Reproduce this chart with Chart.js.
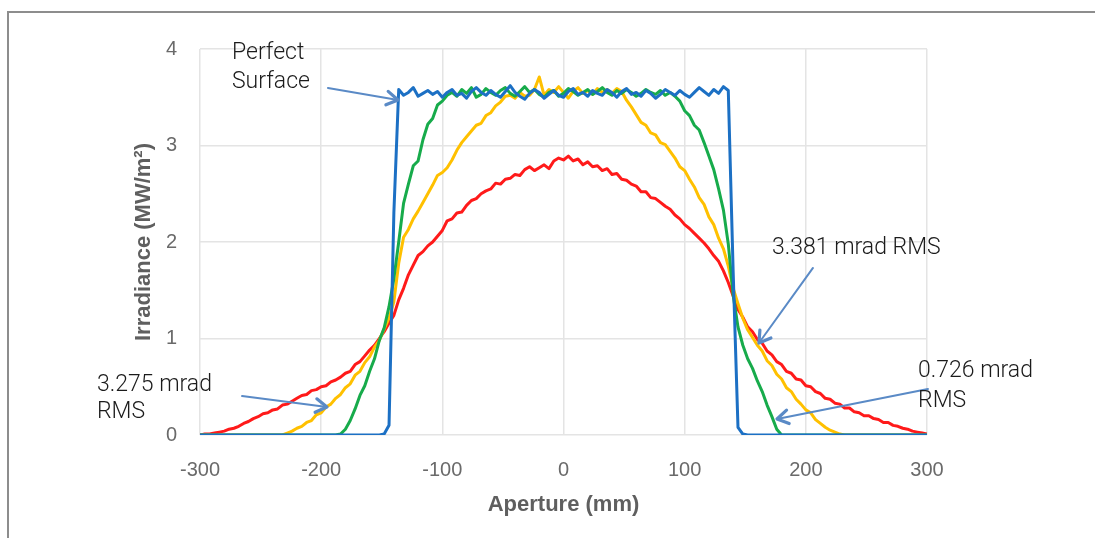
<!DOCTYPE html>
<html>
<head>
<meta charset="utf-8">
<title>Irradiance vs Aperture</title>
<script src="https://cdn.jsdelivr.net/npm/chart.js@4.4.1/dist/chart.umd.min.js"></script>
<style>
  html, body { margin: 0; padding: 0; background: #ffffff; overflow: hidden; }
  canvas { display: block; }
</style>
</head>
<body>
<canvas id="chart" width="1095" height="538"></canvas>
<script>
// Aperture sample positions (mm), every 4 mm from -300 to 300
const apertureStart = -300;
const apertureStep = 4;
const apertureCount = 151;

// Irradiance profiles (MW/m²), one value per aperture sample, rows of 10 samples
const perfectSurface = [
  0, 0, 0, 0, 0, 0, 0, 0, 0, 0,
  0, 0, 0, 0, 0, 0, 0, 0, 0, 0,
  0, 0, 0, 0, 0, 0, 0, 0, 0, 0,
  0, 0, 0, 0, 0, 0, 0, 0, 0.01, 0.10,
  2.3, 3.58, 3.52, 3.55, 3.60, 3.51, 3.54, 3.57, 3.53, 3.56,
  3.50, 3.55, 3.58, 3.52, 3.54, 3.49, 3.56, 3.60, 3.55, 3.52,
  3.57, 3.53, 3.50, 3.56, 3.62, 3.55, 3.51, 3.48, 3.54, 3.58,
  3.55, 3.49, 3.53, 3.57, 3.52, 3.50, 3.56, 3.59, 3.53, 3.55,
  3.51, 3.57, 3.54, 3.52, 3.58, 3.55, 3.50, 3.56, 3.59, 3.53,
  3.55, 3.51, 3.57, 3.54, 3.49, 3.53, 3.58, 3.55, 3.52, 3.57,
  3.53, 3.50, 3.55, 3.60, 3.56, 3.52, 3.58, 3.54, 3.61, 3.57,
  1.7, 0.08, 0.01, 0, 0, 0, 0, 0, 0, 0,
  0, 0, 0, 0, 0, 0, 0, 0, 0, 0,
  0, 0, 0, 0, 0, 0, 0, 0, 0, 0,
  0, 0, 0, 0, 0, 0, 0, 0, 0, 0,
  0
];

const rms0726 = [
  0, 0, 0, 0, 0, 0, 0, 0, 0, 0,
  0, 0, 0, 0, 0, 0, 0, 0, 0, 0,
  0, 0, 0, 0, 0, 0, 0, 0, 0, 0.01,
  0.06, 0.15, 0.27, 0.41, 0.51, 0.66, 0.79, 0.98, 1.11, 1.33,
  1.62, 2.00, 2.40, 2.60, 2.79, 2.84, 3.06, 3.22, 3.28, 3.42,
  3.46, 3.52, 3.55, 3.51, 3.58, 3.54, 3.60, 3.50, 3.53, 3.59,
  3.55, 3.52, 3.57, 3.60, 3.54, 3.51, 3.56, 3.61, 3.55, 3.58,
  3.53, 3.50, 3.55, 3.57, 3.51, 3.54, 3.59, 3.56, 3.52, 3.55,
  3.58, 3.53, 3.56, 3.60, 3.55, 3.52, 3.57, 3.54, 3.58, 3.55,
  3.51, 3.54, 3.58, 3.55, 3.53, 3.57, 3.52, 3.55, 3.51, 3.46,
  3.36, 3.31, 3.21, 3.16, 3.03, 2.89, 2.75, 2.55, 2.33, 1.98,
  1.45, 1.12, 0.93, 0.79, 0.69, 0.56, 0.45, 0.31, 0.19, 0.06,
  0, 0, 0, 0, 0, 0, 0, 0, 0, 0,
  0, 0, 0, 0, 0, 0, 0, 0, 0, 0,
  0, 0, 0, 0, 0, 0, 0, 0, 0, 0,
  0
];

const rms3275 = [
  0, 0, 0, 0, 0, 0, 0, 0, 0, 0,
  0, 0, 0, 0, 0, 0, 0, 0, 0.02, 0.04,
  0.07, 0.09, 0.13, 0.15, 0.21, 0.23, 0.29, 0.32, 0.38, 0.42,
  0.49, 0.53, 0.62, 0.66, 0.75, 0.81, 0.91, 0.98, 1.10, 1.21,
  1.38, 1.78, 2.05, 2.13, 2.24, 2.32, 2.41, 2.50, 2.59, 2.69,
  2.72, 2.77, 2.85, 2.95, 3.03, 3.09, 3.15, 3.21, 3.23, 3.31,
  3.34, 3.41, 3.45, 3.51, 3.52, 3.49, 3.55, 3.51, 3.52, 3.58,
  3.71, 3.52, 3.58, 3.55, 3.61, 3.55, 3.49, 3.56, 3.60, 3.54,
  3.57, 3.53, 3.59, 3.55, 3.58, 3.54, 3.59, 3.56, 3.47, 3.40,
  3.32, 3.24, 3.21, 3.13, 3.11, 3.03, 3.01, 2.94, 2.87, 2.78,
  2.74, 2.65, 2.57, 2.46, 2.39, 2.26, 2.18, 2.04, 1.93, 1.75,
  1.52, 1.36, 1.21, 1.09, 1.01, 0.93, 0.87, 0.77, 0.72, 0.63,
  0.58, 0.49, 0.45, 0.37, 0.32, 0.26, 0.23, 0.16, 0.12, 0.08,
  0.05, 0.03, 0.01, 0, 0, 0, 0, 0, 0, 0,
  0, 0, 0, 0, 0, 0, 0, 0, 0, 0,
  0
];

const rms3381 = [
  0, 0.01, 0.01, 0.02, 0.03, 0.04, 0.06, 0.07, 0.09, 0.12,
  0.14, 0.17, 0.19, 0.22, 0.23, 0.26, 0.27, 0.31, 0.32, 0.35,
  0.38, 0.41, 0.42, 0.46, 0.47, 0.50, 0.51, 0.55, 0.57, 0.60,
  0.64, 0.66, 0.73, 0.76, 0.82, 0.88, 0.93, 1.00, 1.07, 1.16,
  1.24, 1.40, 1.52, 1.66, 1.76, 1.86, 1.90, 1.96, 2.00, 2.06,
  2.12, 2.22, 2.24, 2.30, 2.31, 2.38, 2.43, 2.45, 2.50, 2.53,
  2.55, 2.61, 2.60, 2.65, 2.66, 2.70, 2.69, 2.75, 2.78, 2.74,
  2.77, 2.80, 2.76, 2.84, 2.87, 2.85, 2.89, 2.84, 2.86, 2.80,
  2.83, 2.78, 2.79, 2.74, 2.76, 2.70, 2.71, 2.65, 2.64, 2.60,
  2.58, 2.52, 2.52, 2.46, 2.45, 2.41, 2.37, 2.34, 2.28, 2.24,
  2.18, 2.14, 2.09, 2.04, 1.99, 1.93, 1.86, 1.80, 1.70, 1.58,
  1.44, 1.30, 1.22, 1.12, 1.07, 0.99, 0.95, 0.87, 0.83, 0.76,
  0.73, 0.66, 0.64, 0.58, 0.57, 0.51, 0.50, 0.45, 0.43, 0.38,
  0.37, 0.33, 0.32, 0.28, 0.28, 0.24, 0.23, 0.20, 0.20, 0.17,
  0.16, 0.13, 0.13, 0.10, 0.09, 0.07, 0.06, 0.04, 0.03, 0.02,
  0.01
];

// Axis ranges and tick steps
const xTicks = { min: -300, max: 300, step: 100 };
const yTicks = { min: 0, max: 4, step: 1 };

// Callout labels and their arrows, in data units (aperture mm, irradiance MW/m²)
const callouts = [
  { lines: ['Perfect', 'Surface'], at: [-273.6, 3.896], lineGap: 0.30,
    arrow: { from: [-194.4, 3.596], to: [-136.6, 3.472] } },
  { lines: ['3.381 mrad RMS'], at: [172.1, 1.876], lineGap: 0.30,
    arrow: { from: [205.9, 1.731], to: [161.3, 0.953] } },
  { lines: ['0.726 mrad', 'RMS'], at: [292.6, 0.601], lineGap: 0.311,
    arrow: { from: [300.8, 0.477], to: [176.2, 0.166] } },
  { lines: ['3.275 mrad', 'RMS'], at: [-385.0, 0.456], lineGap: 0.28,
    arrow: { from: [-265.3, 0.404], to: [-195.2, 0.290] } }
];

const apertures = Array.from({ length: apertureCount }, (_, i) => apertureStart + i * apertureStep);
const toPoints = values => values.map((v, i) => ({ x: apertures[i], y: v }));

const axisGrey = '#6a6a6a';
const titleGrey = '#5f5f5f';
const gridGrey = '#e4e4e4';
const arrowBlue = '#5a8ac6';

// Thin grey frame around the figure
const framePlugin = {
  id: 'frame',
  beforeDraw(chart) {
    const ctx = chart.ctx;
    ctx.save();
    ctx.fillStyle = '#ffffff';
    ctx.fillRect(0, 0, chart.width, chart.height);
    ctx.strokeStyle = '#8d8d8d';
    ctx.lineWidth = 2;
    ctx.beginPath();
    ctx.moveTo(8, chart.height);
    ctx.lineTo(8, 12);
    ctx.lineTo(chart.width, 12);
    ctx.stroke();
    ctx.restore();
  }
};

// Text callouts with open-headed arrows pointing at the curves
const calloutPlugin = {
  id: 'callouts',
  afterDatasetsDraw(chart) {
    const ctx = chart.ctx;
    const xs = chart.scales.x, ys = chart.scales.y;
    const px = v => xs.getPixelForValue(v);
    const py = v => ys.getPixelForValue(v);
    ctx.save();
    callouts.forEach(c => {
      // arrow shaft
      const x1 = px(c.arrow.from[0]), y1 = py(c.arrow.from[1]);
      const x2 = px(c.arrow.to[0]), y2 = py(c.arrow.to[1]);
      ctx.strokeStyle = arrowBlue;
      ctx.lineCap = 'round';
      ctx.lineJoin = 'round';
      ctx.lineWidth = 2;
      ctx.beginPath();
      ctx.moveTo(x1, y1);
      ctx.lineTo(x2, y2);
      ctx.stroke();
      // open arrow head
      const ang = Math.atan2(y2 - y1, x2 - x1);
      const len = 13, spread = 0.55;
      ctx.lineWidth = 3.2;
      ctx.beginPath();
      ctx.moveTo(x2 - len * Math.cos(ang - spread), y2 - len * Math.sin(ang - spread));
      ctx.lineTo(x2, y2);
      ctx.lineTo(x2 - len * Math.cos(ang + spread), y2 - len * Math.sin(ang + spread));
      ctx.stroke();
      // label text
      ctx.fillStyle = '#1b1b1b';
      ctx.font = '300 23px Roboto, "Liberation Sans", sans-serif';
      ctx.textAlign = 'left';
      ctx.textBaseline = 'alphabetic';
      c.lines.forEach((t, k) => {
        ctx.fillText(t, px(c.at[0]), py(c.at[1] - k * c.lineGap));
      });
    });
    ctx.restore();
  }
};

new Chart(document.getElementById('chart'), {
  type: 'line',
  data: {
    datasets: [
      { label: 'Perfect Surface', data: toPoints(perfectSurface), borderColor: '#1c70c4' },
      { label: '0.726 mrad RMS', data: toPoints(rms0726), borderColor: '#17ab4b' },
      { label: '3.275 mrad RMS', data: toPoints(rms3275), borderColor: '#ffc000' },
      { label: '3.381 mrad RMS', data: toPoints(rms3381), borderColor: '#ff1a1a' }
    ]
  },
  options: {
    responsive: false,
    animation: false,
    events: [],
    parsing: false,
    layout: { padding: { left: 0, top: 49, right: 168, bottom: 0 } },
    elements: {
      line: { borderWidth: 3, tension: 0, borderJoinStyle: 'round', borderCapStyle: 'round', fill: false },
      point: { radius: 0 }
    },
    plugins: {
      legend: { display: false },
      tooltip: { enabled: false }
    },
    scales: {
      x: {
        type: 'linear',
        min: xTicks.min,
        max: xTicks.max,
        ticks: {
          stepSize: xTicks.step,
          color: axisGrey,
          font: { family: '"Liberation Sans", Arial, sans-serif', size: 20 },
          padding: 23,
          maxRotation: 0
        },
        grid: { color: gridGrey, lineWidth: 1.5, drawTicks: false },
        border: { display: false },
        title: {
          display: true,
          text: 'Aperture (mm)',
          color: titleGrey,
          font: { family: '"Liberation Sans", Arial, sans-serif', size: 22, weight: 'bold' },
          padding: { top: 0, bottom: 20 }
        },
        afterFit(scale) { scale.height = 103; }
      },
      y: {
        type: 'linear',
        min: yTicks.min,
        max: yTicks.max,
        ticks: {
          stepSize: yTicks.step,
          color: axisGrey,
          font: { family: '"Liberation Sans", Arial, sans-serif', size: 20 },
          padding: 23
        },
        grid: { color: gridGrey, lineWidth: 1.5, drawTicks: false },
        border: { display: false },
        title: {
          display: true,
          text: 'Irradiance (MW/m²)',
          color: titleGrey,
          font: { family: '"Liberation Sans", Arial, sans-serif', size: 22, weight: 'bold' },
          padding: { top: 131, bottom: 0 }
        },
        afterFit(scale) { scale.width = 200; }
      }
    }
  },
  plugins: [framePlugin, calloutPlugin]
});
</script>
</body>
</html>
